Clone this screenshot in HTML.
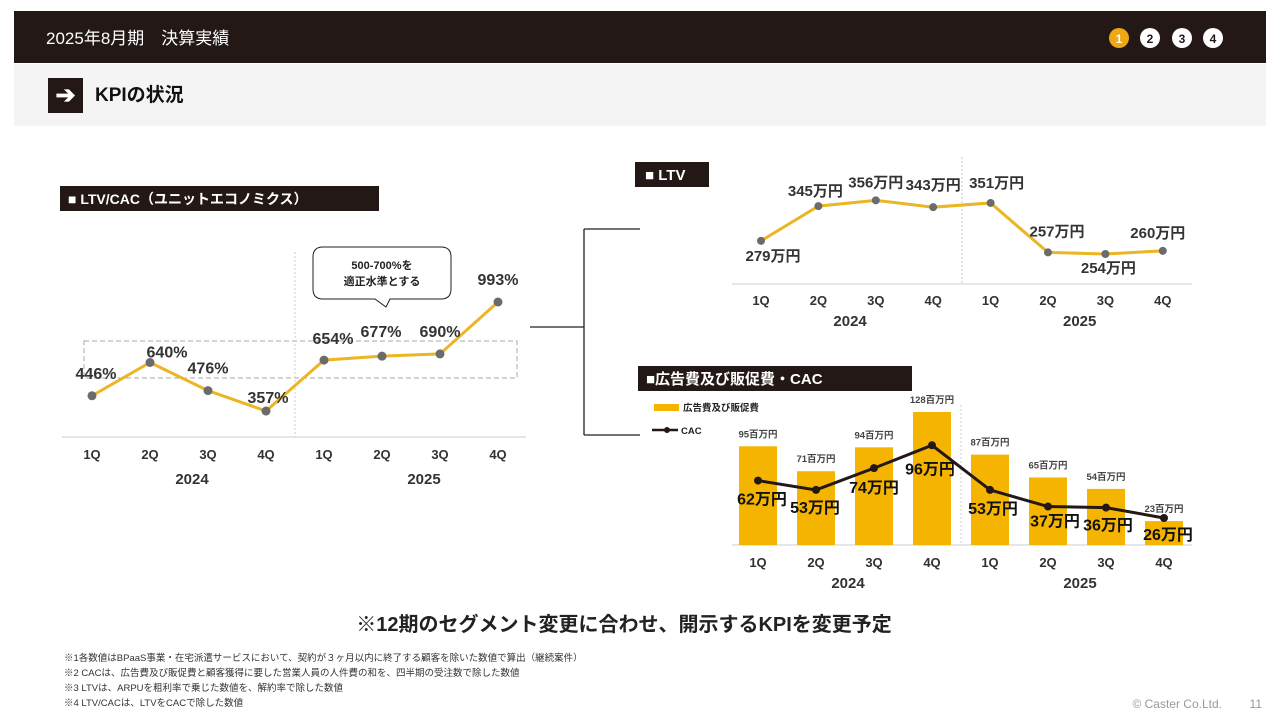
<!DOCTYPE html>
<html><head><meta charset="utf-8"><style>
body{margin:0;width:1280px;height:720px;background:#fff;overflow:hidden;font-family:"Liberation Sans","Noto Sans CJK JP",sans-serif;}
svg{position:absolute;left:0;top:0}
text{font-family:"Liberation Sans","Noto Sans CJK JP",sans-serif}
</style></head><body>
<svg id="s" width="1280" height="720" xmlns="http://www.w3.org/2000/svg">
<rect x="14" y="11" width="1252" height="52" fill="#231815"/>
<text x="46" y="44" font-size="17" fill="#fff">2025年8月期　決算実績</text>
<g font-size="12" font-weight="bold" text-anchor="middle">
<circle cx="1119" cy="38" r="10" fill="#f0a812"/><text x="1119" y="43" fill="#fff">1</text>
<circle cx="1150" cy="38" r="10" fill="#fff"/><text x="1150" y="43" fill="#231815">2</text>
<circle cx="1182" cy="38" r="10" fill="#fff"/><text x="1182" y="43" fill="#231815">3</text>
<circle cx="1213" cy="38" r="10" fill="#fff"/><text x="1213" y="43" fill="#231815">4</text>
</g>
<rect x="14" y="64" width="1252" height="62" fill="#f4f4f4"/>
<rect x="48" y="78" width="35" height="35" fill="#231815"/>
<text x="65.5" y="103" font-size="24" font-weight="bold" fill="#fff" text-anchor="middle">➔</text>
<text x="95" y="101" font-size="19" font-weight="bold" fill="#111">KPIの状況</text>

<rect x="60" y="186" width="319" height="25" fill="#231815"/>
<text x="68" y="204" font-size="14" font-weight="bold" fill="#fff">■ LTV/CAC（ユニットエコノミクス）</text>
<rect x="635" y="162" width="74" height="25" fill="#231815"/>
<text x="645" y="180" font-size="15" font-weight="bold" fill="#fff">■ LTV</text>
<rect x="638" y="366" width="274" height="25" fill="#231815"/>
<text x="646" y="384" font-size="15" font-weight="bold" fill="#fff">■広告費及び販促費・CAC</text>

<g stroke="#222" stroke-width="1.3" fill="none">
<path d="M530 327H584M584 229V435M584 229H640M584 435H640"/>
</g>

<g>
<path d="M323 247H441Q451 247 451 257V289Q451 299 441 299H390L386 307L375 299H323Q313 299 313 289V257Q313 247 323 247Z" fill="#fff" stroke="#222" stroke-width="1"/>
<text x="382" y="269" font-size="11" font-weight="bold" text-anchor="middle" fill="#222">500-700%を</text>
<text x="382" y="285" font-size="11" font-weight="bold" text-anchor="middle" fill="#222">適正水準とする</text>
</g>
<rect x="84" y="341" width="433" height="37" fill="none" stroke="#aaa" stroke-dasharray="5,3"/>

<text x="624" y="631" font-size="20" font-weight="bold" text-anchor="middle" fill="#222">※12期のセグメント変更に合わせ、開示するKPIを変更予定</text>
<g font-size="9.5" fill="#333">
<text x="64" y="661">※1各数値はBPaaS事業・在宅派遣サービスにおいて、契約が３ヶ月以内に終了する顧客を除いた数値で算出（継続案件）</text>
<text x="64" y="676">※2 CACは、広告費及び販促費と顧客獲得に要した営業人員の人件費の和を、四半期の受注数で除した数値</text>
<text x="64" y="691">※3 LTVは、ARPUを粗利率で乗じた数値を、解約率で除した数値</text>
<text x="64" y="706">※4 LTV/CACは、LTVをCACで除した数値</text>
</g>
<text x="1222" y="708" font-size="12" fill="#999" text-anchor="end">© Caster Co.Ltd.</text>
<text x="1262" y="708" font-size="12" fill="#999" text-anchor="end">11</text>
</svg>
<script>
const quarters=["1Q","2Q","3Q","4Q","1Q","2Q","3Q","4Q"];
const years=["2024","2025"];
const ltvcacValues=[446,640,476,357,654,677,690,993];
const ltvcacLabels=["446%","640%","476%","357%","654%","677%","690%","993%"];
const ltvValues=[279,345,356,343,351,257,254,260];
const ltvLabels=["279万円","345万円","356万円","343万円","351万円","257万円","254万円","260万円"];
const adValues=[95,71,94,128,87,65,54,23];
const adLabels=["95百万円","71百万円","94百万円","128百万円","87百万円","65百万円","54百万円","23百万円"];
const cacValues=[62,53,74,96,53,37,36,26];
const cacLabels=["62万円","53万円","74万円","96万円","53万円","37万円","36万円","26万円"];

const NS="http://www.w3.org/2000/svg";const svg=document.getElementById('s');
function mk(t,a,txt){const e=document.createElementNS(NS,t);for(const k in a)e.setAttribute(k,a[k]);if(txt!==undefined)e.textContent=txt;svg.appendChild(e);return e;}

const x1=i=>92+58*i, y1=v=>472.2-v*0.1714;
const x2=i=>761+57.4*i, y2=v=>387.6-v*0.526;
const x3=i=>758+58*i, y3=v=>545-v*1.039;

function axis(xf,x0,xe,yAxis,qy,yy,yOff,sepX,sepTop,name){
  let l=mk('line',{x1:x0,x2:xe,y1:yAxis,y2:yAxis,stroke:'#ddd','stroke-width':1.5});
  
  
  let s=mk('line',{x1:sepX,x2:sepX,y1:sepTop,y2:yAxis,stroke:'#ccc','stroke-dasharray':'2,2'});
  
  
  quarters.forEach((q,i)=>{const t=mk('text',{x:xf(i),y:qy,'font-size':13,'font-weight':'bold','text-anchor':'middle',fill:'#333'},q);
    
    });
  years.forEach((y,j)=>{const t=mk('text',{x:(xf(j*4)+xf(j*4+3))/2+yOff,y:yy,'font-size':15,'font-weight':'bold','text-anchor':'middle',fill:'#333'},y);
    
    });
}
axis(x1,62,526,437,459,484,13,295,252,'ltvcac');
axis(x2,732,1192,284,305,326,3,962,157,'ltv');
axis(x3,732,1192,545,567,588,3,961,405,'cac');

let p=mk('polyline',{points:ltvcacValues.map((v,i)=>x1(i)+','+y1(v)).join(' '),fill:'none',stroke:'#ebb523','stroke-width':3});


const l1dx=[4,17,0,2,9,-1,0,0],l1dy=[-17,-5,-17,-8,-16,-19,-17,-17];
ltvcacValues.forEach((v,i)=>{
  const c=mk('circle',{cx:x1(i),cy:y1(v),r:4.5,fill:'#6b6b6b'});
  
  
  const t=mk('text',{x:x1(i)+l1dx[i],y:y1(v)+l1dy[i],'font-size':16,'font-weight':'bold','text-anchor':'middle',fill:'#333'},ltvcacLabels[i]);
  
  
});

p=mk('polyline',{points:ltvValues.map((v,i)=>x2(i)+','+y2(v)).join(' '),fill:'none',stroke:'#ebb523','stroke-width':3});


const l2dx=[12,-3,0,0,6,9,3,-5],l2dy=[20,-10,-13,-17,-15,-16,19,-13];
ltvValues.forEach((v,i)=>{
  const c=mk('circle',{cx:x2(i),cy:y2(v),r:4,fill:'#6b6b6b'});
  
  
  const t=mk('text',{x:x2(i)+l2dx[i],y:y2(v)+l2dy[i],'font-size':15,'font-weight':'bold','text-anchor':'middle',fill:'#333'},ltvLabels[i]);
  
  
});

adValues.forEach((v,i)=>{
  const r=mk('rect',{x:x3(i)-19,y:y3(v),width:38,height:545-y3(v),fill:'#f5b400'});
  
  
  const t=mk('text',{x:x3(i),y:y3(v)-9,'font-size':9.5,'font-weight':'bold','text-anchor':'middle',fill:'#444'},adLabels[i]);
  
  
});
p=mk('polyline',{points:cacValues.map((v,i)=>x3(i)+','+y3(v)).join(' '),fill:'none',stroke:'#231815','stroke-width':3});


const l3dx=[4,-1,0,-2,3,7,2,4],l3dy=[24,23,25,29,24,20,23,22];
cacValues.forEach((v,i)=>{
  const c=mk('circle',{cx:x3(i),cy:y3(v),r:4,fill:'#231815'});
  
  
  const t=mk('text',{x:x3(i)+l3dx[i],y:y3(v)+l3dy[i],'font-size':16,'font-weight':'bold','text-anchor':'middle',fill:'#111'},cacLabels[i]);
  
  
});

let e=mk('rect',{x:654,y:404,width:25,height:7,fill:'#f5b400'});


e=mk('text',{x:683,y:411,'font-size':9.5,'font-weight':'bold',fill:'#222'},'広告費及び販促費');


e=mk('line',{x1:652,x2:678,y1:430,y2:430,stroke:'#231815','stroke-width':2.5});


mk('circle',{cx:667,cy:430,r:3,fill:'#231815'});
e=mk('text',{x:681,y:434,'font-size':9.5,'font-weight':'bold',fill:'#222'},'CAC');


</script>
</body></html>
